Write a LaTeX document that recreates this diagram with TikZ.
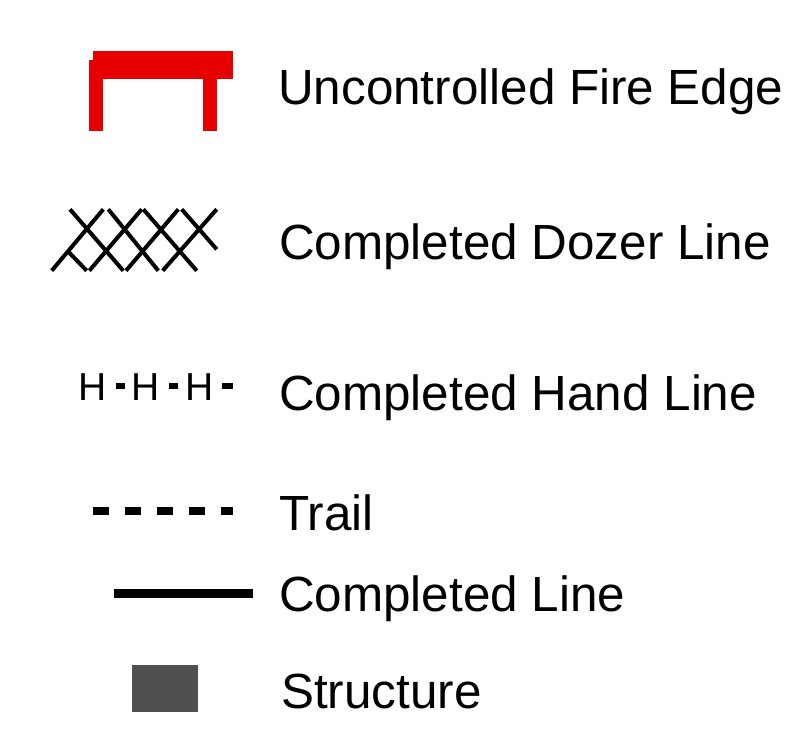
\documentclass[tikz,border=0pt]{standalone}
\usepackage{fontspec}
\setmainfont{Liberation Sans}
\definecolor{fire}{HTML}{E60000}
\definecolor{struct}{HTML}{505050}
\begin{document}
\begin{tikzpicture}[x=1pt,y=-1pt,
  lbl/.style={anchor=base west,inner sep=0pt,font=\fontsize{49.4}{60}\selectfont},
  hh/.style={inner sep=0pt,font=\fontsize{39}{46}\selectfont},
  doz/.style={line width=4pt,line cap=butt},
  hdash/.style={fill=black},
]
\useasboundingbox (0,0) rectangle (805,751);
% Uncontrolled fire edge
\fill[fire] (93.3,51) rectangle (232.7,79.3);
\fill[fire] (89.3,60) rectangle (103.3,130.7);
\fill[fire] (203.3,51) rectangle (217.3,130.7);
\node[lbl] (t1) at (278,104.3) {Uncontrolled Fire Edge};
% Dozer line
\draw[doz] (51.7,270.7) -- (103.3,209.3);
\draw[doz] (89.3,270.7) -- (141.7,209.3);
\draw[doz] (126,270.7) -- (178.3,209.3);
\draw[doz] (162.7,270.7) -- (216.7,209.3);
\draw[doz] (70,209.3) -- (123.3,270.7);
\draw[doz] (108.3,209.3) -- (158.3,270.7);
\draw[doz] (143.3,209.3) -- (196.7,270.7);
\draw[doz] (181.7,209.3) -- (216.7,249.3);
\draw[doz] (68.3,251.7) -- (86.7,270.7);
\node[lbl] (t2) at (279,259) {Completed Dozer Line};
% Hand line
\node[hh] (h1) at (93,387) {H};
\node[hh] (h2) at (146,387) {H};
\node[hh] (h3) at (200,387) {H};
\fill[hdash] (115.5,382.5) rectangle (124.5,389);
\fill[hdash] (168.5,382.5) rectangle (177.5,389);
\fill[hdash] (221.7,382.5) rectangle (232.7,389);
\node[lbl] (t3) at (279,410) {Completed Hand Line};
% Trail
\draw[line width=8pt,dash pattern=on 15.7pt off 16.3pt] (93.3,511.3) -- (232.7,511.3);
\node[lbl] (t4) at (279,530) {Trail};
% Completed line
\draw[line width=8.4pt] (114.3,593.5) -- (253.3,593.5);
\node[lbl] (t5) at (279,611) {Completed Line};
% Structure
\fill[struct] (132,665) rectangle (198,712);
\node[lbl] (t6) at (281,708) {Structure};
\end{tikzpicture}
\end{document}
